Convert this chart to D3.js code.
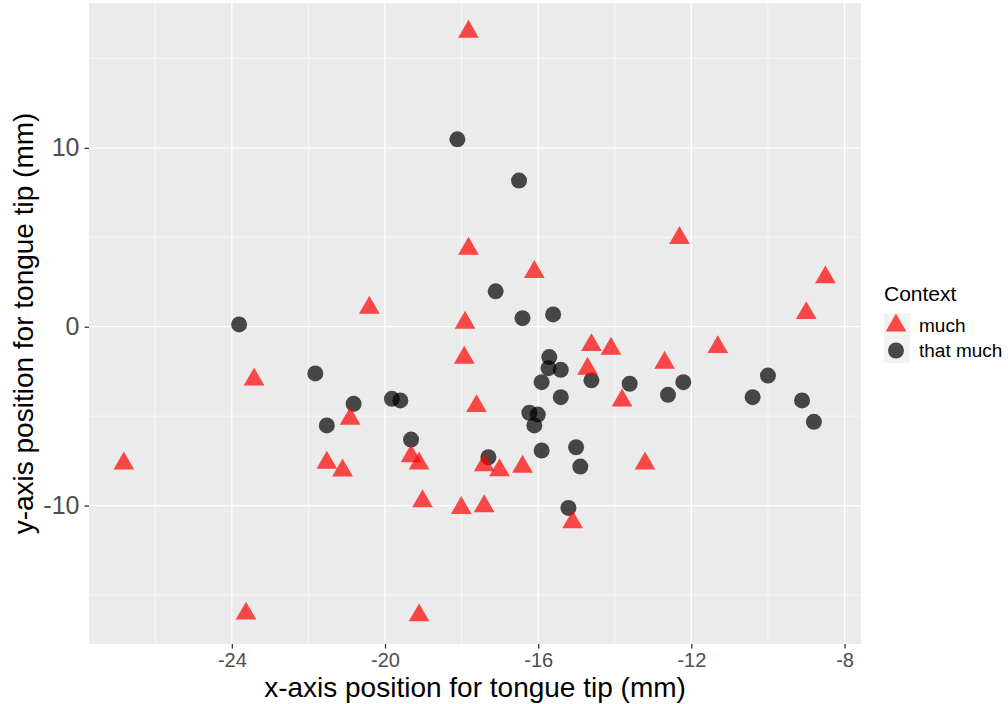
<!DOCTYPE html>
<html lang="en">
<head>
<meta charset="UTF-8">
<title>Tongue tip position by context</title>
<style>
  body { margin: 0; background: #fff; }
  svg text { font-family: "Liberation Sans", Arial, Helvetica, sans-serif; }
</style>
</head>
<body>
<div id="chart"></div>
<script src="https://cdn.jsdelivr.net/npm/d3@7/dist/d3.min.js"></script>
<script>
// "much" tokens (triangles)
const muchX = [-17.82, -17.82, -16.10, -12.31, -8.50, -9.00, -20.41, -17.91, -23.42, -17.93,
               -14.61, -14.10, -12.70, -11.31, -14.71, -13.81, -17.61, -20.91, -26.82, -21.52,
               -21.11, -19.32, -19.11, -17.41, -17.01, -16.41, -13.21, -19.02, -18.01, -17.41,
               -15.10, -23.63, -19.11];
const muchY = [16.49, 4.36, 3.06, 4.96, 2.76, 0.76, 1.06, 0.22, -2.95, -1.73,
               -1.03, -1.23, -2.01, -1.14, -2.35, -4.12, -4.44, -5.15, -7.65, -7.61,
               -8.04, -7.24, -7.65, -7.74, -8.02, -7.83, -7.65, -9.76, -10.13, -10.04,
               -10.93, -16.04, -16.14];

// "that much" tokens (circles)
const thatX = [-18.11, -16.50, -17.11, -16.41, -15.61, -23.81, -21.82, -20.82, -21.52, -19.82,
               -19.60, -19.32, -15.71, -15.73, -15.41, -15.91, -14.61, -13.61, -12.21, -12.61,
               -15.41, -10.00, -10.40, -9.11, -8.80, -16.23, -16.01, -16.10, -15.91, -15.01,
               -14.90, -17.30, -15.21];
const thatY = [10.48, 8.17, 1.98, 0.48, 0.69, 0.13, -2.61, -4.31, -5.52, -4.03,
               -4.12, -6.31, -1.70, -2.32, -2.41, -3.10, -3.00, -3.19, -3.10, -3.81,
               -3.94, -2.73, -3.94, -4.12, -5.32, -4.81, -4.91, -5.52, -6.92, -6.74,
               -7.82, -7.30, -10.13];

const contexts = ["much", "that much"];
const xTicks = [-24, -20, -16, -12, -8];
const xMinor = [-26, -22, -18, -14, -10];
const yTicks = [-10, 0, 10];
const yMinor = [-15, -5, 5, 15];

const width = 1008, height = 704;
const panel = { left: 89, right: 861, top: 3, bottom: 644 };

const svg = d3.select("#chart").append("svg")
    .attr("width", width)
    .attr("height", height);

const x = d3.scaleLinear().domain([-27.73, -7.57]).range([panel.left, panel.right]);
const y = d3.scaleLinear().domain([-17.74, 18.1]).range([panel.bottom, panel.top]);

const shape = d3.scaleOrdinal().domain(contexts).range([d3.symbolTriangle, d3.symbolCircle]);
const color = d3.scaleOrdinal().domain(contexts).range(["#ff0000", "#000000"]);
const size = { "much": 186, "that much": 201 };

// plain hyphen for negatives, like R
const fmt = d => String(d);

// panel
svg.append("rect")
    .attr("x", panel.left).attr("y", panel.top)
    .attr("width", panel.right - panel.left)
    .attr("height", panel.bottom - panel.top)
    .attr("fill", "#ebebeb");

const grid = svg.append("g").attr("stroke", "#fff");
grid.selectAll(".xminor").data(xMinor).enter().append("line")
    .attr("x1", d => x(d)).attr("x2", d => x(d))
    .attr("y1", panel.top).attr("y2", panel.bottom)
    .attr("stroke-width", 0.6);
grid.selectAll(".yminor").data(yMinor).enter().append("line")
    .attr("y1", d => y(d)).attr("y2", d => y(d))
    .attr("x1", panel.left).attr("x2", panel.right)
    .attr("stroke-width", 0.6);
grid.selectAll(".xmajor").data(xTicks).enter().append("line")
    .attr("x1", d => x(d)).attr("x2", d => x(d))
    .attr("y1", panel.top).attr("y2", panel.bottom)
    .attr("stroke-width", 1.3);
grid.selectAll(".ymajor").data(yTicks).enter().append("line")
    .attr("y1", d => y(d)).attr("y2", d => y(d))
    .attr("x1", panel.left).attr("x2", panel.right)
    .attr("stroke-width", 1.3);

// axes
const xAxis = svg.append("g")
    .attr("transform", `translate(0,${panel.bottom})`)
    .call(d3.axisBottom(x).tickValues(xTicks).tickSize(4.5).tickPadding(4).tickFormat(fmt));
const yAxis = svg.append("g")
    .attr("transform", `translate(${panel.left},0)`)
    .call(d3.axisLeft(y).tickValues(yTicks).tickSize(4.5).tickPadding(5).tickFormat(fmt));
[xAxis, yAxis].forEach(a => {
    a.select(".domain").remove();
    a.selectAll(".tick line").attr("stroke", "#333").attr("stroke-width", 1.3);
    a.selectAll(".tick text").attr("fill", "#4d4d4d")
        .style("font-family", '"Liberation Sans", Arial, sans-serif');
});
xAxis.selectAll(".tick text").style("font-size", "20px");
yAxis.selectAll(".tick text").style("font-size", "25px");

// points: circles first, triangles on top
const points = [];
thatX.forEach((v, i) => points.push({ x: v, y: thatY[i], ctx: "that much" }));
muchX.forEach((v, i) => points.push({ x: v, y: muchY[i], ctx: "much" }));

svg.append("g").selectAll("path")
    .data(points)
    .enter().append("path")
    .attr("d", d => d3.symbol().type(shape(d.ctx)).size(size[d.ctx])())
    .attr("transform", d => `translate(${x(d.x)},${y(d.y)})`)
    .attr("fill", d => color(d.ctx))
    .attr("fill-opacity", 0.7);

// axis titles
svg.append("text")
    .attr("x", (panel.left + panel.right) / 2)
    .attr("y", 696.5)
    .attr("text-anchor", "middle")
    .style("font-size", "28px")
    .text("x-axis position for tongue tip (mm)");

svg.append("text")
    .attr("transform", `translate(33,${(panel.top + panel.bottom) / 2}) rotate(-90)`)
    .attr("text-anchor", "middle")
    .style("font-size", "28px")
    .text("y-axis position for tongue tip (mm)");

// legend
const legend = svg.append("g").attr("transform", "translate(884,0)");
legend.append("text")
    .attr("x", 0).attr("y", 301)
    .style("font-size", "21px")
    .text("Context");

const key = legend.selectAll(".key").data(contexts).enter().append("g")
    .attr("transform", (d, i) => `translate(0,${313 + i * 25})`);
key.append("rect")
    .attr("width", 26).attr("height", 25)
    .attr("fill", "#f2f2f2");
key.append("path")
    .attr("d", d => d3.symbol().type(shape(d)).size(size[d])())
    .attr("transform", "translate(12,12.5)")
    .attr("fill", d => color(d))
    .attr("fill-opacity", 0.7);
key.append("text")
    .attr("x", 35).attr("y", 12.5)
    .attr("dy", "0.35em")
    .style("font-size", "19px")
    .text(d => d);
</script>
</body>
</html>
